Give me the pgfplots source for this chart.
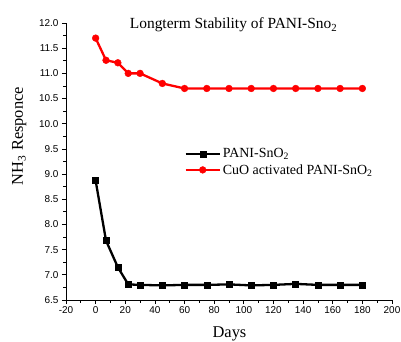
\documentclass[border=0pt]{standalone}
\usepackage{fontspec}
\setmainfont{Liberation Serif}
\newfontfamily\arial{Liberation Sans}
\usepackage{pgfplots}
\pgfplotsset{compat=1.18}
\begin{document}
\begin{tikzpicture}
\path[use as bounding box] (-66bp,-42bp) rectangle (335bp,300bp);
\begin{axis}[
  at={(0,0)}, anchor=south west,
  scale only axis,
  width=326bp, height=277bp,
  xmin=-20, xmax=200, ymin=6.5, ymax=12,
  axis x line*=bottom, axis y line*=left,
  tick align=outside,
  xtick={-20,0,...,200},
  ytick={6.5,7,...,12},
  minor x tick num=1, minor y tick num=1,
  major tick length=4bp, minor tick length=2.5bp,
  every tick/.style={black, line width=0.8bp},
  axis line style={line width=0.9bp},
  /pgf/number format/assume math mode=true,
  yticklabel style={/pgf/number format/.cd, fixed, fixed zerofill, precision=1},
  ticklabel style={font=\arial\fontsize{10}{12}\selectfont},
  xticklabel style={yshift=1bp},
  clip=false,
  legend style={draw=none, fill=none, at={(axis description cs:0.36,0.498)}, anchor=west,
    font=\fontsize{14}{16}\selectfont, row sep=1bp, inner sep=1bp},
  legend cell align=left,
  legend image code/.code={\draw[mark repeat=2,mark phase=2,#1] plot coordinates {(0cm,0cm) (0.6cm,0cm) (1.2cm,0cm)};},
]
\addplot[black, line width=2.3bp, mark=square*, mark size=3bp, mark options={solid, line width=0.4bp}] coordinates {
(0,8.87) (7,7.68) (15,7.15) (22,6.81) (30,6.80) (45,6.79) (60,6.80) (75,6.80) (90,6.81) (105,6.79) (120,6.80) (135,6.82) (150,6.80) (165,6.80) (180,6.80)};
\addlegendentry{PANI-SnO\textsubscript{2}}
\addplot[red, line width=2.3bp, mark=*, mark size=3.4bp, mark options={solid, line width=0.4bp}] coordinates {
(0,11.70) (7,11.26) (15,11.21) (22,11.00) (30,11.00) (45,10.80) (60,10.70) (75,10.70) (90,10.70) (105,10.70) (120,10.70) (135,10.70) (150,10.70) (165,10.70) (180,10.70)};
\addlegendentry{CuO activated PANI-SnO\textsubscript{2}}
\node[anchor=base, font=\fontsize{15.5}{18}\selectfont] at (axis description cs:0.514,0.979) {Longterm Stability of PANI-Sno\textsubscript{2}};
\node[anchor=base, font=\fontsize{16.5}{19}\selectfont] at (axis description cs:0.5015,-0.137) {Days};
\node[anchor=base, rotate=90, font=\fontsize{16.5}{19}\selectfont] at (axis description cs:-0.132,0.592) {NH\textsubscript{3} Responce};
\end{axis}
\end{tikzpicture}
\end{document}
